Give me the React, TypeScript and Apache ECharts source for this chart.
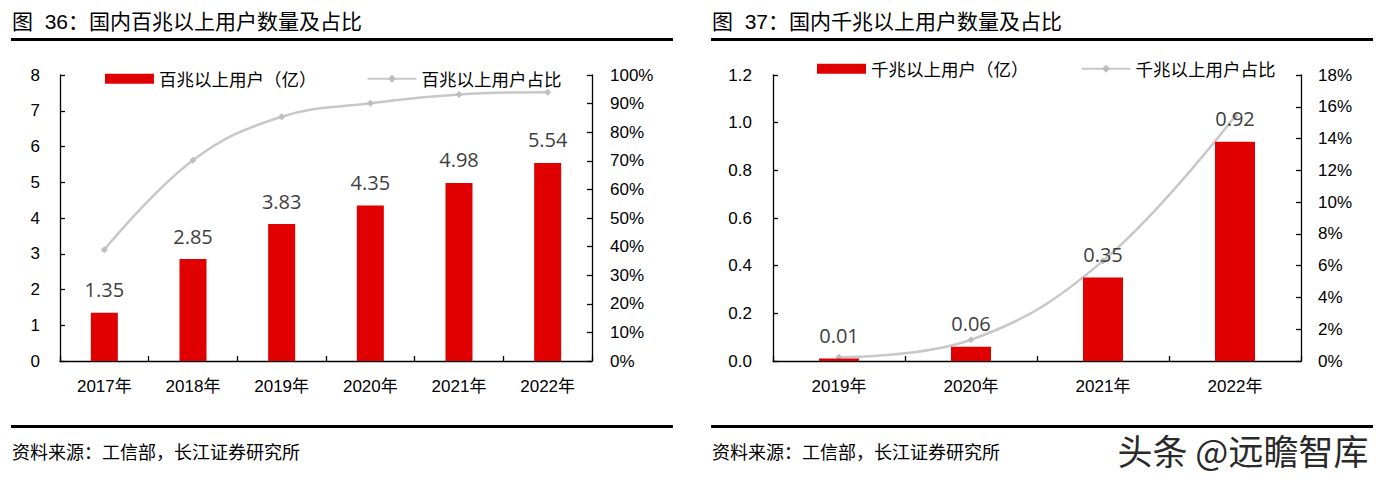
import React, { useEffect, useRef } from 'react';
import * as echarts from 'echarts';

// ---- data: 图36 百兆 ----
const catsA = ['2017年', '2018年', '2019年', '2020年', '2021年', '2022年'];
const usersA = [1.35, 2.85, 3.83, 4.35, 4.98, 5.54];
const shareA = [0.389, 0.702, 0.854, 0.901, 0.932, 0.94];

// ---- data: 图37 千兆 ----
const catsB = ['2019年', '2020年', '2021年', '2022年'];
const usersB = [0.01, 0.06, 0.35, 0.92];
const shareB = [0.0024, 0.0134, 0.063, 0.154];

const titleA = '图  36：国内百兆以上用户数量及占比';
const titleB = '图  37：国内千兆以上用户数量及占比';
const sourceText = '资料来源：工信部，长江证券研究所';
const watermark = '头条 @远瞻智库';
const nameBarA = '百兆以上用户（亿）';
const nameLineA = '百兆以上用户占比';
const nameBarB = '千兆以上用户（亿）';
const nameLineB = '千兆以上用户占比';

const RED = '#E00000';
const GRAY = '#C8C8C8';
const CJK = '"Noto Sans CJK SC", sans-serif';
const ARIAL = '"Liberation Sans", Arial, "Noto Sans CJK SC", sans-serif';
const NUM = '"Open Sans", sans-serif';

function yAxis(gridIndex: number, min: number, max: number, interval: number, fmt: (v: number) => string, margin: number, pos: 'left' | 'right') {
  return {
    type: 'value',
    gridIndex,
    position: pos,
    min,
    max,
    interval,
    axisLine: { show: true, lineStyle: { color: '#000', width: 1.3 } },
    axisTick: { show: true, inside: true, length: 5, lineStyle: { color: '#000', width: 1.3 } },
    splitLine: { show: false },
    axisLabel: { color: '#000', fontSize: 17, fontFamily: ARIAL, margin, formatter: fmt },
  };
}

function xAxis(gridIndex: number, data: string[]) {
  return {
    type: 'category',
    gridIndex,
    data,
    axisLine: { show: true, lineStyle: { color: '#000', width: 1.3 } },
    axisTick: { show: true, inside: true, length: 5, lineStyle: { color: '#000', width: 1.3 } },
    axisLabel: { color: '#000', fontSize: 17, fontFamily: ARIAL, margin: 17 },
    splitLine: { show: false },
  };
}

const labelStyle = {
  show: true,
  position: 'top',
  distance: 13,
  color: '#404040',
  fontSize: 20,
  fontFamily: NUM,
  formatter: (p: any) => Number(p.value).toFixed(2),
};

export default function App() {
  const ref = useRef<HTMLDivElement>(null);
  useEffect(() => {
    if (!ref.current) return;
    const chart = echarts.init(ref.current, undefined, { renderer: 'svg' });
    chart.setOption({
      animation: false,
      backgroundColor: '#fff',
      grid: [
        { left: 60, top: 75, width: 532, height: 286 },
        { left: 773, top: 75, width: 528, height: 286 },
      ],
      xAxis: [xAxis(0, catsA), xAxis(1, catsB)],
      yAxis: [
        yAxis(0, 0, 8, 1, (v) => String(v), 20, 'left'),
        yAxis(0, 0, 1, 0.1, (v) => Math.round(v * 100) + '%', 18, 'right'),
        yAxis(1, 0, 1.2, 0.2, (v) => v.toFixed(1), 21, 'left'),
        yAxis(1, 0, 0.18, 0.02, (v) => Math.round(v * 100) + '%', 17, 'right'),
      ],
      legend: [
        {
          left: 100,
          top: 65,
          itemWidth: 49,
          itemHeight: 10,
          itemGap: 50,
          textStyle: { fontSize: 17.5, fontFamily: CJK, color: '#000' },
          data: [
            { name: nameBarA, icon: 'rect' },
            { name: nameLineA },
          ],
        },
        {
          left: 812,
          top: 55,
          itemWidth: 49,
          itemHeight: 10,
          itemGap: 52,
          textStyle: { fontSize: 17.5, fontFamily: CJK, color: '#000' },
          data: [
            { name: nameBarB, icon: 'rect' },
            { name: nameLineB },
          ],
        },
      ],
      series: [
        {
          name: nameBarA,
          type: 'bar',
          xAxisIndex: 0,
          yAxisIndex: 0,
          data: usersA,
          barWidth: 27,
          itemStyle: { color: RED },
          label: labelStyle,
        },
        {
          name: nameLineA,
          type: 'line',
          xAxisIndex: 0,
          yAxisIndex: 1,
          data: shareA,
          smooth: 0.4,
          symbol: 'diamond',
          symbolSize: 7,
          lineStyle: { color: GRAY, width: 2.5 },
          itemStyle: { color: '#BEBEBE' },
          z: 3,
        },
        {
          name: nameBarB,
          type: 'bar',
          xAxisIndex: 1,
          yAxisIndex: 2,
          data: usersB,
          barWidth: 40,
          itemStyle: { color: RED },
          label: labelStyle,
        },
        {
          name: nameLineB,
          type: 'line',
          xAxisIndex: 1,
          yAxisIndex: 3,
          data: shareB,
          smooth: 0.4,
          symbol: 'diamond',
          symbolSize: 7,
          lineStyle: { color: GRAY, width: 2.5 },
          itemStyle: { color: '#BEBEBE' },
          z: 1,
        },
      ],
      graphic: [
        { type: 'text', left: 12, top: 11, style: { text: titleA, fontSize: 21, fontFamily: ARIAL, fill: '#000' } },
        { type: 'text', left: 712, top: 11, style: { text: titleB, fontSize: 21, fontFamily: ARIAL, fill: '#000' } },
        { type: 'rect', shape: { x: 11, y: 38, width: 662, height: 3 }, style: { fill: '#000' } },
        { type: 'rect', shape: { x: 711, y: 38, width: 662, height: 3 }, style: { fill: '#000' } },
        { type: 'rect', shape: { x: 11, y: 425, width: 662, height: 3 }, style: { fill: '#000' } },
        { type: 'rect', shape: { x: 711, y: 425, width: 662, height: 3 }, style: { fill: '#000' } },
        { type: 'text', left: 12, top: 442, style: { text: sourceText, fontSize: 18, fontFamily: CJK, fill: '#000' } },
        { type: 'text', left: 712, top: 442, style: { text: sourceText, fontSize: 18, fontFamily: CJK, fill: '#000' } },
        { type: 'text', left: 1117, top: 431, style: { text: watermark, fontSize: 35, fontFamily: CJK, fill: '#2a2a2a', stroke: '#fff', lineWidth: 1 } },
      ],
    });
    return () => chart.dispose();
  }, []);
  return <div ref={ref} style={{ position: 'absolute', left: 0, top: 0, width: 1386, height: 484 }} />;
}
